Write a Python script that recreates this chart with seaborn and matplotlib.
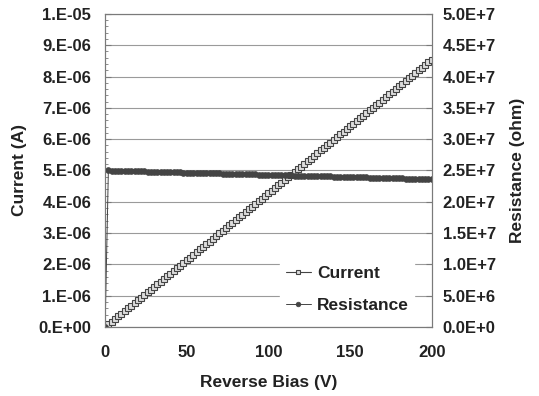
import matplotlib
matplotlib.use('Agg')
import matplotlib.pyplot as plt
import matplotlib.ticker as mticker
import seaborn as sns
import numpy as np
import pandas as pd

# Reverse bias sweep (V)
bias = [0, 2, 4, 6, 8, 10, 12, 14, 16, 18, 20, 22, 24, 26, 28, 30, 32, 34, 36, 38,
        40, 42, 44, 46, 48, 50, 52, 54, 56, 58, 60, 62, 64, 66, 68, 70, 72, 74, 76, 78,
        80, 82, 84, 86, 88, 90, 92, 94, 96, 98, 100, 102, 104, 106, 108, 110, 112, 114,
        116, 118, 120, 122, 124, 126, 128, 130, 132, 134, 136, 138, 140, 142, 144, 146,
        148, 150, 152, 154, 156, 158, 160, 162, 164, 166, 168, 170, 172, 174, 176, 178,
        180, 182, 184, 186, 188, 190, 192, 194, 196, 198, 200]

# Current (uA)
current_ua = [0.00, 0.09, 0.17, 0.26, 0.34, 0.43, 0.51, 0.60, 0.68, 0.77,
              0.85, 0.94, 1.02, 1.11, 1.20, 1.28, 1.37, 1.45, 1.54, 1.62,
              1.71, 1.79, 1.88, 1.96, 2.05, 2.14, 2.22, 2.31, 2.39, 2.48,
              2.56, 2.65, 2.73, 2.82, 2.90, 2.99, 3.07, 3.16, 3.25, 3.33,
              3.42, 3.50, 3.59, 3.67, 3.76, 3.84, 3.93, 4.01, 4.10, 4.18,
              4.27, 4.36, 4.44, 4.53, 4.61, 4.70, 4.78, 4.87, 4.95, 5.04,
              5.12, 5.21, 5.29, 5.38, 5.47, 5.55, 5.64, 5.72, 5.81, 5.89,
              5.98, 6.06, 6.15, 6.23, 6.32, 6.41, 6.49, 6.58, 6.66, 6.75,
              6.83, 6.92, 7.00, 7.09, 7.17, 7.26, 7.34, 7.43, 7.52, 7.60,
              7.69, 7.77, 7.86, 7.94, 8.03, 8.11, 8.20, 8.28, 8.37, 8.45,
              8.54]

# Resistance (x1e7 ohm)
resistance_e7 = [0.000,
                 2.500, 2.499, 2.497, 2.496, 2.494, 2.493, 2.492, 2.490, 2.489, 2.487,
                 2.486, 2.484, 2.483, 2.482, 2.480, 2.479, 2.477, 2.476, 2.475, 2.473,
                 2.472, 2.470, 2.469, 2.467, 2.466, 2.465, 2.463, 2.462, 2.460, 2.459,
                 2.458, 2.456, 2.455, 2.453, 2.452, 2.450, 2.449, 2.448, 2.446, 2.445,
                 2.443, 2.442, 2.441, 2.439, 2.438, 2.436, 2.435, 2.433, 2.432, 2.431,
                 2.429, 2.428, 2.426, 2.425, 2.424, 2.422, 2.421, 2.419, 2.418, 2.416,
                 2.415, 2.414, 2.412, 2.411, 2.409, 2.408, 2.407, 2.405, 2.404, 2.402,
                 2.401, 2.399, 2.398, 2.397, 2.395, 2.394, 2.392, 2.391, 2.390, 2.388,
                 2.387, 2.385, 2.384, 2.382, 2.381, 2.380, 2.378, 2.377, 2.375, 2.374,
                 2.373, 2.371, 2.370, 2.368, 2.367, 2.365, 2.364, 2.363, 2.361, 2.360]

df = pd.DataFrame({
    'bias': bias,
    'current': np.array(current_ua) * 1e-6,
    'resistance': np.array(resistance_e7) * 1e7,
})

sns.set_style('white')
plt.rcParams['font.family'] = ['Liberation Sans', 'DejaVu Sans']
plt.rcParams['font.weight'] = 'bold'
plt.rcParams['axes.labelweight'] = 'bold'

line_col = '#444444'
text_col = '#222222'

fig, ax = plt.subplots(figsize=(5.39, 3.96), dpi=100)
fig.subplots_adjust(left=0.195, right=0.801, top=0.965, bottom=0.174)
ax2 = ax.twinx()

sns.lineplot(data=df, x='bias', y='current', ax=ax, color=line_col, lw=0.8,
             marker='s', markersize=4.2, markerfacecolor='#dddddd',
             markeredgecolor=line_col, markeredgewidth=0.8,
             estimator=None, sort=False, label='Current', legend=False)
sns.lineplot(data=df, x='bias', y='resistance', ax=ax2, color=line_col, lw=0.7,
             marker='o', markersize=4.2, markerfacecolor=line_col,
             markeredgecolor=line_col, markeredgewidth=0.5,
             estimator=None, sort=False, label='Resistance', legend=False)

ax.set_xlim(0, 200)
ax.set_ylim(0, 1e-5)
ax2.set_ylim(0, 5e7)
ax.set_xticks([0, 50, 100, 150, 200])
ax.set_yticks(np.linspace(0, 1e-5, 11))
ax.yaxis.set_minor_locator(mticker.MultipleLocator(2e-7))
ax2.set_yticks(np.linspace(0, 5e7, 11))


def left_fmt(v, pos):
    if v == 0:
        return '0.E+00'
    exp = int(np.floor(np.log10(abs(v)) + 1e-9))
    mant = int(round(v / 10 ** exp))
    return f'{mant}.E{exp:+03d}'


def right_fmt(v, pos):
    if v == 0:
        return '0.0E+0'
    exp = int(np.floor(np.log10(abs(v)) + 1e-9))
    mant = v / 10 ** exp
    return f'{mant:.1f}E{exp:+d}'


ax.yaxis.set_major_formatter(mticker.FuncFormatter(left_fmt))
ax2.yaxis.set_major_formatter(mticker.FuncFormatter(right_fmt))

ax.grid(axis='y', color='#9a9a9a', lw=0.8)
ax.set_axisbelow(True)
for a in (ax, ax2):
    for s in a.spines.values():
        s.set_color('#7a7a7a')
        s.set_linewidth(0.8)
ax.tick_params(axis='x', which='major', direction='in', length=4,
               labelsize=12, colors='#7a7a7a', labelcolor=text_col, pad=13)
ax.tick_params(axis='y', which='major', direction='in', length=4,
               labelsize=12, colors='#7a7a7a', labelcolor=text_col, pad=10)
ax.tick_params(axis='y', which='minor', direction='in', length=2, left=True,
               colors='#7a7a7a')
ax2.tick_params(axis='y', which='major', direction='in', length=4,
                labelsize=12, colors='#7a7a7a', labelcolor=text_col, pad=8)

ax.set_xlabel('Reverse Bias (V)', fontsize=12.5, color=text_col, labelpad=11)
ax.set_ylabel('Current (A)', fontsize=12.5, color=text_col, labelpad=8)
ax2.set_ylabel('Resistance (ohm)', fontsize=12.5, color=text_col, labelpad=10)

h1, l1 = ax.get_legend_handles_labels()
h2, l2 = ax2.get_legend_handles_labels()
leg = ax2.legend(h1 + h2, l1 + l2, loc='lower left', bbox_to_anchor=(0.51, 0.0),
                 frameon=True, framealpha=1, edgecolor='white', fontsize=12.5,
                 handlelength=1.45, handletextpad=0.35, labelspacing=1.0,
                 borderpad=0.3, markerscale=0.8)
for t in leg.get_texts():
    t.set_color(text_col)

fig.savefig('out.png', dpi=100)
